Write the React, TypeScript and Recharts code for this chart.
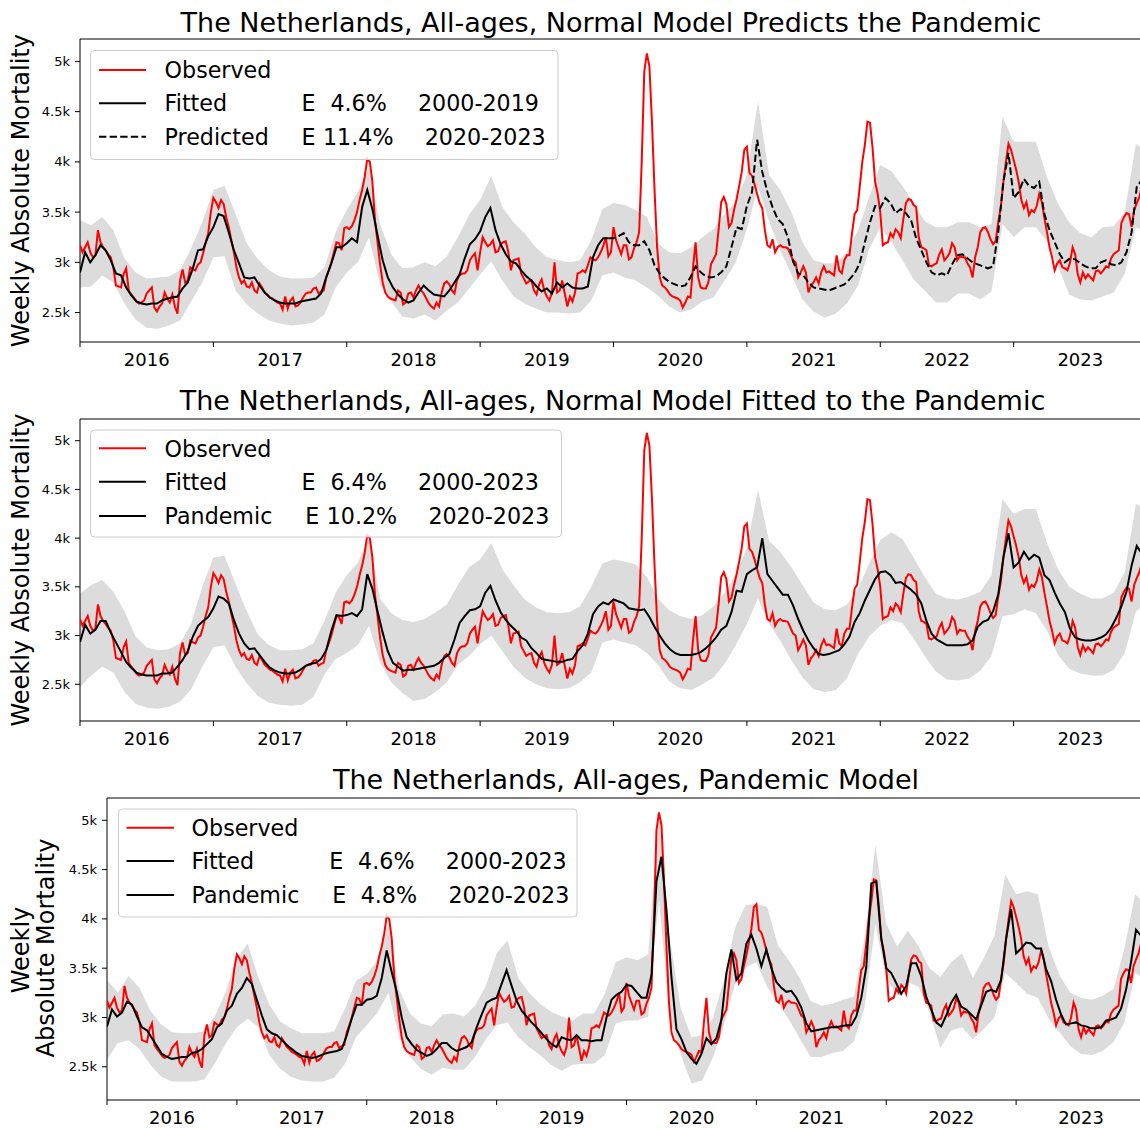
import React from 'react';
import { ComposedChart, Area, Line, XAxis, YAxis, ReferenceLine } from 'recharts';

const FONT = '"DejaVu Sans", sans-serif';
const START_YEAR = 2016;
const END_YEAR = 2024;

const YEAR_LABELS = ['2016', '2017', '2018', '2019', '2020', '2021', '2022', '2023'];
const Y_TICKS = [2500, 3000, 3500, 4000, 4500, 5000];
const Y_TICK_LABELS = ['2.5k', '3k', '3.5k', '4k', '4.5k', '5k'];

// weekly deaths, one line per year starting with the first week of 2016
const observed = [
  3170, 3100, 3150, 3200, 3100, 3050, 3070, 3320, 3200, 3150, 3120, 3080, 3050, 2950, 2770, 2760, 2750, 2880, 2940, 2720, 2680, 2650, 2610, 2590, 2600, 2620,
  2690, 2720, 2750, 2550, 2510, 2560, 2590, 2700, 2640, 2600, 2680, 2560, 2490, 2820, 2930, 2800, 2820, 2950, 2930, 2920, 2980, 3000, 3090, 3200, 3290, 3500,
  3640, 3600, 3540, 3620, 3580, 3450, 3350, 3220, 3100, 2950, 2850, 2790, 2820, 2760, 2750, 2800, 2720, 2700, 2790, 2750, 2700, 2680, 2650, 2640, 2620, 2600,
  2590, 2530, 2660, 2540, 2620, 2650, 2560, 2570, 2600, 2650, 2690, 2700, 2700, 2740, 2750, 2690, 2710, 2720, 2850, 2920, 3000, 3100, 3200, 3190, 3120, 3340,
  3350, 3330, 3360, 3420, 3500, 3620, 3720, 3850, 4030, 4000, 3800, 3420, 3200, 2980, 2800, 2700, 2660, 2640, 2630, 2620, 2720, 2700, 2580, 2600, 2690, 2700,
  2650, 2720, 2770, 2720, 2690, 2640, 2590, 2560, 2540, 2600, 2560, 2700, 2790, 2810, 2780, 2720, 2690, 2820, 2870, 2890, 2890, 2920, 3020, 3060, 3090, 2920,
  3100, 3250, 3200, 3160, 3180, 3220, 3100, 3110, 3180, 3200, 3210, 3100, 2920, 3020, 3030, 3040, 2890, 2840, 2790, 2810, 2820, 2720, 2680, 2780, 2830, 2720,
  2660, 2620, 2700, 3000, 2700, 2720, 2820, 2690, 2560, 2660, 2610, 2700, 2890, 2900, 2920, 2900, 2970, 3050, 3030, 3020, 3050, 3100, 3160, 3250, 3060, 3100,
  3350, 3220, 3150, 3080, 3170, 3170, 3030, 3050, 3140, 3200, 3300, 4000, 4900, 5080, 4950, 4400, 3720, 3150, 2850, 2770, 2750, 2720, 2680, 2660, 2650, 2640,
  2620, 2550, 2600, 2660, 2650, 2950, 3200, 2850, 2750, 2740, 2740, 2800, 2980, 3030, 3080, 3330, 3600, 3650, 3580, 3350, 3390, 3520, 3630, 3760, 3900, 4120,
  4150, 3890, 3860, 3780, 3680, 3590, 3540, 3320, 3170, 3150, 3230, 3100, 3150, 3170, 3150, 3150, 3140, 3080, 3020, 3000, 2850, 2900, 2960, 2900, 2700, 2770,
  2800, 2850, 2790, 2900, 2960, 2900, 2910, 2890, 2870, 3070, 2920, 2890, 3020, 3070, 3070, 3290, 3480, 3520, 3750, 4000, 4170, 4400, 4390, 4140, 3800, 3680,
  3500, 3170, 3190, 3200, 3290, 3250, 3330, 3300, 3240, 3430, 3590, 3630, 3620, 3570, 3550, 3250, 3150, 3140, 3120, 2970, 2960, 2980, 2990, 3080, 3130, 3020,
  3050, 3090, 3190, 3150, 3020, 3060, 3050, 3050, 2990, 2950, 2850, 3050, 3150, 3300, 3340, 3350, 3300, 3230, 3180, 3210, 3400, 3550, 3800, 4000, 4180, 4120,
  4020, 3920, 3800, 3620, 3540, 3600, 3470, 3520, 3500, 3560, 3680, 3600, 3440, 3300, 3150, 3050, 2920, 2990, 3020, 2950, 2940, 2920, 3000, 3150, 3080, 2880,
  2800, 2900, 2840, 2880, 2850, 2820, 2910, 2920, 2890, 2920, 2960, 2950, 3040, 3080, 3100, 3120, 3390, 3450, 3490, 3480, 3350, 3520, 3590, 3650, 3750, 3700,
];

// model curves, every second week from the first week of 2016

// normal model fitted on 2000-2019
const normalFitted = [
  2900, 3100, 3000, 3070, 3170, 3120, 3020, 2890, 2870, 2750, 2670, 2610, 2590, 2580, 2590, 2590, 2620, 2640, 2650, 2660, 2740, 2800, 2940, 3120, 3130, 3260,
  3350, 3480, 3460, 3300, 3120, 2990, 2850, 2840, 2850, 2770, 2700, 2650, 2620, 2600, 2590, 2590, 2590, 2610, 2620, 2630, 2640, 2690, 2850, 2990, 3150, 3150,
  3190, 3240, 3200, 3550, 3720, 3530, 3270, 3020, 2850, 2750, 2680, 2630, 2600, 2620, 2700, 2770, 2720, 2680, 2670, 2660, 2720, 2800, 2880, 3040, 3180, 3230,
  3310, 3450, 3540, 3320, 3180, 3080, 3010, 2990, 2920, 2860, 2820, 2760, 2710, 2740, 2690, 2800, 2750, 2790, 2750, 2740, 2740, 2760, 3050, 3170, 3240, 3240,
];

// same model carried forward over 2020-2023
const normalPredicted = [
  3240, 3260, 3290, 3200, 3170, 3170, 3210, 3120, 2970, 2890, 2840, 2800, 2780, 2760, 2770, 2850, 2960, 2900, 2860, 2850, 2860, 2900, 2960, 3150, 3350, 3330,
  3560, 3700, 4220, 3900, 3700, 3550, 3430, 3380, 3250, 3010, 2890, 2870, 2800, 2750, 2740, 2730, 2720, 2740, 2760, 2780, 2830, 2890, 2990, 3200, 3400, 3560,
  3540, 3640, 3590, 3490, 3530, 3490, 3420, 3240, 3120, 3000, 2900, 2870, 2890, 2870, 2980, 3070, 3080, 3040, 3000, 2980, 2960, 2940, 2960, 3300, 3800, 4090,
  3640, 3700, 3830, 3760, 3740, 3800, 3480, 3320, 3200, 3080, 3000, 3040, 3030, 2990, 2960, 2940, 2940, 3000, 3020, 2980, 2970, 3000, 3100, 3300, 3750, 3820,
];

// normal model refitted on 2000-2023
const refitModel = [
  2935, 3110, 3020, 3060, 3150, 3150, 3030, 2930, 2830, 2730, 2670, 2620, 2600, 2590, 2590, 2590, 2610, 2610, 2620, 2680, 2750, 2840, 2990, 3100, 3150, 3190,
  3280, 3400, 3380, 3330, 3160, 3020, 2920, 2860, 2870, 2800, 2730, 2670, 2640, 2620, 2610, 2610, 2620, 2650, 2690, 2710, 2720, 2760, 2850, 3050, 3210, 3200,
  3210, 3230, 3200, 3270, 3630, 3480, 3250, 3030, 2840, 2720, 2680, 2640, 2650, 2650, 2660, 2670, 2680, 2690, 2720, 2770, 2810, 2960, 3130, 3200, 3260, 3270,
  3300, 3440, 3510, 3360, 3240, 3160, 3100, 3050, 2980, 2950, 2870, 2820, 2760, 2750, 2740, 2730, 2730, 2750, 2760, 2840, 2900, 3020, 3220, 3300, 3340, 3320,
  3370, 3350, 3330, 3280, 3270, 3260, 3270, 3190, 3090, 3000, 2920, 2860, 2820, 2800, 2800, 2800, 2810, 2830, 2870, 2920, 2980, 3060, 3100, 3240, 3460, 3450,
  3630, 3670, 3700, 4000, 3630, 3560, 3490, 3420, 3420, 3310, 3170, 3050, 2950, 2870, 2810, 2800, 2810, 2830, 2850, 2910, 2990, 3140, 3230, 3360, 3470, 3580,
  3650, 3660, 3620, 3540, 3550, 3510, 3470, 3420, 3330, 3150, 3020, 2960, 2930, 2900, 2900, 2900, 2900, 2910, 2950, 3090, 3140, 3160, 3250, 3420, 3800, 4050,
  3700, 3750, 3860, 3780, 3830, 3800, 3620, 3570, 3440, 3330, 3240, 3070, 2980, 2960, 2950, 2950, 2960, 2980, 3010, 3080, 3180, 3300, 3450, 3720, 3920, 3840,
];

// pandemic model fitted on 2000-2023
const pandemicModel = [
  2910, 3080, 3010, 3050, 3160, 3130, 3010, 2900, 2870, 2790, 2710, 2630, 2600, 2580, 2590, 2600, 2600, 2640, 2650, 2680, 2730, 2780, 2900, 2940, 3070, 3120,
  3240, 3300, 3400, 3340, 3180, 3020, 2880, 2840, 2820, 2770, 2720, 2680, 2640, 2610, 2600, 2590, 2600, 2620, 2640, 2650, 2660, 2680, 2820, 2990, 3130, 3130,
  3180, 3190, 3220, 3400, 3680, 3460, 3260, 3000, 2800, 2730, 2670, 2640, 2610, 2630, 2680, 2740, 2740, 2690, 2660, 2680, 2700, 2750, 2900, 3030, 3150, 3180,
  3200, 3340, 3480, 3320, 3170, 3070, 3010, 2950, 2900, 2840, 2780, 2730, 2700, 2800, 2780, 2770, 2820, 2770, 2770, 2760, 2770, 2770, 3000, 3180, 3230, 3260,
  3330, 3320, 3260, 3200, 3200, 3430, 4380, 4630, 4090, 3410, 2880, 2780, 2650, 2580, 2530, 2630, 2790, 2730, 2790, 2980, 3450, 3690, 3380, 3450, 3750, 3840,
  3700, 3520, 3690, 3500, 3360, 3300, 3260, 3270, 3200, 3100, 2940, 2860, 2870, 2880, 2890, 2900, 2900, 2910, 2920, 2920, 3010, 3200, 3510, 4360, 4380, 3800,
  3500, 3450, 3350, 3240, 3320, 3550, 3550, 3420, 3210, 3080, 2950, 2910, 3020, 3150, 3230, 3110, 3080, 3030, 2980, 3120, 3260, 3280, 3260, 3380, 3800, 4100,
  3650, 3700, 3760, 3750, 3700, 3700, 3490, 3370, 3180, 3030, 2930, 2940, 2950, 2920, 2910, 2890, 2890, 2900, 2970, 2980, 3000, 3090, 3280, 3560, 3890, 3830,
];

// prediction intervals, one value per month (Jan 2016 .. Jan 2024)
const normalLow = [
  2750, 2760, 2870, 2800, 2590, 2430, 2350, 2340, 2370, 2420, 2610, 2800,
  3050, 3060, 2720, 2580, 2490, 2420, 2390, 2370, 2380, 2400, 2480, 2750,
  2900, 3000, 3250, 2780, 2610, 2460, 2440, 2480, 2420, 2520, 2600, 2740,
  2880, 3010, 2820, 2660, 2590, 2540, 2500, 2500, 2490, 2500, 2620, 2870,
  2900, 2850, 2820, 2750, 2670, 2560, 2500, 2530, 2610, 2650, 2820, 3000,
  3330, 3750, 3410, 3120, 2880, 2630, 2510, 2450, 2490, 2590, 2770, 3130,
  3350, 3200, 3020, 2830, 2720, 2600, 2600, 2690, 2690, 2630, 2710, 3380,
  3250, 3350, 3350, 3210, 2960, 2680, 2630, 2620, 2660, 2700, 2890, 3350,
  3300,
];
const normalHigh = [
  3420, 3370, 3450, 3320, 3040, 2900, 2840, 2850, 2860, 2920, 3140, 3400,
  3720, 3760, 3480, 3190, 3030, 2920, 2860, 2840, 2840, 2850, 2950, 3300,
  3520, 3700, 3950, 3380, 3080, 2940, 2950, 3000, 2960, 3060, 3250, 3470,
  3620, 3860, 3550, 3400, 3290, 3150, 3050, 3020, 3000, 3020, 3220, 3530,
  3590, 3570, 3520, 3450, 3190, 3100, 3090, 3150, 3250, 3330, 3480, 3600,
  3870, 4600, 3870, 3720, 3500, 3200, 3020, 2990, 2990, 3100, 3320, 3650,
  3970, 3910, 3760, 3590, 3410, 3350, 3350, 3400, 3400, 3350, 3380, 4450,
  4200, 4200, 4200, 3850, 3580, 3400, 3290, 3250, 3350, 3360, 3500, 4180,
  4100,
];
const refitLow = [
  2470, 2590, 2680, 2620, 2420, 2300, 2260, 2250, 2270, 2320, 2450, 2680,
  2880, 2900, 2680, 2510, 2380, 2310, 2290, 2280, 2290, 2370, 2600, 2760,
  2820, 2900, 3100, 2720, 2520, 2410, 2330, 2350, 2420, 2520, 2700, 2790,
  2910, 3000, 2840, 2680, 2570, 2500, 2460, 2450, 2460, 2520, 2620, 2930,
  2960, 2930, 2900, 2820, 2700, 2530, 2460, 2440, 2500, 2570, 2710, 2900,
  3120, 3380, 3120, 2950, 2750, 2570, 2450, 2420, 2440, 2560, 2810, 2990,
  3100, 3160, 3130, 2970, 2790, 2630, 2550, 2540, 2560, 2640, 2790, 3200,
  3220, 3270, 3230, 3050, 2800, 2660, 2610, 2590, 2590, 2650, 2820, 3250,
  3330,
];
const refitHigh = [
  3430, 3520, 3570, 3450, 3250, 2990, 2880, 2850, 2860, 2920, 3120, 3500,
  3800, 3820, 3530, 3250, 3010, 2900, 2850, 2850, 2860, 2920, 3150, 3440,
  3620, 3750, 4000, 3380, 3230, 3160, 3140, 3170, 3240, 3320, 3520, 3700,
  3780, 3950, 3680, 3520, 3370, 3290, 3240, 3230, 3240, 3300, 3500, 3740,
  3780, 3760, 3730, 3600, 3380, 3260, 3200, 3170, 3210, 3300, 3440, 3630,
  3900, 4500, 3970, 3860, 3700, 3520, 3340, 3270, 3260, 3320, 3480, 3740,
  3980, 4060, 3990, 3800, 3600, 3430, 3380, 3370, 3400, 3450, 3620, 4400,
  4250, 4300, 4300, 3950, 3680, 3500, 3430, 3380, 3380, 3440, 3650, 4350,
  4300,
];
const pandemicLow = [
  2570, 2740, 2770, 2680, 2520, 2400, 2350, 2350, 2350, 2370, 2540, 2740,
  2900, 2990, 2900, 2620, 2480, 2400, 2360, 2350, 2350, 2390, 2530, 2800,
  2920, 3050, 3250, 2800, 2600, 2480, 2420, 2490, 2470, 2470, 2600, 2780,
  2920, 2950, 2800, 2700, 2620, 2520, 2460, 2520, 2530, 2530, 2620, 2940,
  2970, 2970, 3010, 4200, 2980, 2630, 2330, 2360, 2600, 2920, 3330, 3510,
  3560, 3310, 3150, 2980, 2790, 2600, 2600, 2640, 2660, 2760, 3100, 3950,
  3380, 3240, 3360, 3310, 3050, 2690, 2870, 2900, 2780, 2880, 3000, 3450,
  3350, 3240, 3200, 2990, 2850, 2710, 2630, 2620, 2660, 2750, 2950, 3450,
  3380,
];
const pandemicHigh = [
  3380, 3250, 3420, 3300, 3070, 2930, 2850, 2840, 2840, 2860, 3020, 3270,
  3600, 3750, 3400, 3130, 2960, 2890, 2840, 2840, 2840, 2860, 3090, 3370,
  3440, 3580, 3950, 3280, 3040, 2940, 2910, 3030, 3040, 3010, 3120, 3320,
  3650, 3780, 3400, 3250, 3140, 3060, 3010, 2970, 3040, 3040, 3240, 3560,
  3610, 3580, 3640, 5050, 3800, 3100, 2800, 2820, 3000, 3380, 3900, 4140,
  4150, 4120, 3730, 3580, 3400, 3170, 3120, 3140, 3180, 3210, 3800, 4750,
  3950, 3720, 3880, 3720, 3500, 3410, 3560, 3650, 3400, 3600, 3830, 4450,
  4250, 4280, 4250, 3720, 3430, 3250, 3200, 3180, 3220, 3290, 3700, 4250,
  4150,
];

const X_TICKS: number[] = [];
YEAR_LABELS.forEach((_, i) => {
  X_TICKS.push(START_YEAR + i, START_YEAR + i + 0.5);
});

const monthTime = (i: number) => START_YEAR + i / 12;

function bandRows(low: number[], high: number[]) {
  return low.map((lo, i) => ({ t: monthTime(i), range: [lo, high[i]] }));
}

// one row per week; the model curves only exist on every second week
function lineRows(models: Record<string, (number | null)[]>) {
  return observed.map((v, i) => {
    const row: Record<string, number | null> = { t: START_YEAR + i / 52, obs: v };
    Object.keys(models).forEach((key) => {
      const m = i % 2 === 0 ? models[key][i / 2] : undefined;
      row[key] = m === undefined ? null : m;
    });
    return row;
  });
}

const lastFit = normalFitted.length - 1;
const predictedSeries = normalFitted
  .map((v, i) => (i === lastFit ? v : null))
  .concat(normalPredicted);

type LineSpec = { key: string; color: string; dash?: string; gaps?: boolean };

type PanelSpec = {
  top: number;
  plotLeft: number;
  width: number;
  plotTop: number;
  plotHeight: number;
  yDomain: [number, number];
  band: { t: number; range: number[] }[];
  rows: Record<string, number | null>[];
  lines: LineSpec[];
};

const AXIS_H = 30;

const panels: PanelSpec[] = [
  {
    top: 0,
    plotLeft: 80,
    width: 1147,
    plotTop: 39,
    plotHeight: 303,
    yDomain: [2207, 5223],
    band: bandRows(normalLow, normalHigh),
    rows: lineRows({ fit: normalFitted, pred: predictedSeries }),
    lines: [
      { key: 'obs', color: '#ff0000' },
      { key: 'fit', color: '#000000', gaps: true },
      { key: 'pred', color: '#000000', dash: '7.4 3.2', gaps: true },
    ],
  },
  {
    top: 379,
    plotLeft: 80,
    width: 1147,
    plotTop: 40,
    plotHeight: 302,
    yDomain: [2123, 5223],
    band: bandRows(refitLow, refitHigh),
    rows: lineRows({ fit: refitModel }),
    lines: [
      { key: 'obs', color: '#ff0000' },
      { key: 'fit', color: '#000000', gaps: true },
    ],
  },
  {
    top: 758,
    plotLeft: 107,
    width: 1146,
    plotTop: 40,
    plotHeight: 302,
    yDomain: [2163, 5226],
    band: bandRows(pandemicLow, pandemicHigh),
    rows: lineRows({ fit: pandemicModel }),
    lines: [
      { key: 'obs', color: '#ff0000' },
      { key: 'fit', color: '#000000', gaps: true },
    ],
  },
];

function YearTick(props: any) {
  const { x, y, payload } = props;
  const v = payload.value as number;
  if (Number.isInteger(v)) {
    return <line x1={x} x2={x} y1={y} y2={y + 5} stroke="#000" strokeWidth={1} />;
  }
  return (
    <text x={x} y={y + 24} textAnchor="middle" fontSize={18} fontFamily={FONT} fill="#000">
      {YEAR_LABELS[Math.floor(v) - START_YEAR]}
    </text>
  );
}

function Panel({ spec }: { spec: PanelSpec }) {
  const height = spec.plotTop + spec.plotHeight + AXIS_H;
  const pos: React.CSSProperties = { position: 'absolute', left: 0, top: spec.top };
  return (
    <>
      <div style={pos}>
        <ComposedChart
          width={spec.width}
          height={height}
          data={spec.band}
          margin={{ top: spec.plotTop, right: 0, bottom: 0, left: 1 }}
        >
          <XAxis
            type="number"
            dataKey="t"
            domain={[START_YEAR, END_YEAR]}
            ticks={X_TICKS}
            interval={0}
            tickLine={false}
            tickSize={0}
            tickMargin={0}
            height={AXIS_H}
            axisLine={{ stroke: '#000', strokeWidth: 1 }}
            tick={(p: any) => <YearTick {...p} />}
            allowDataOverflow
          />
          <YAxis
            type="number"
            domain={spec.yDomain}
            ticks={Y_TICKS}
            interval={0}
            width={spec.plotLeft - 1}
            tickSize={5}
            tickMargin={5}
            tickFormatter={(_v: number, i: number) => Y_TICK_LABELS[i]}
            tick={{ fill: '#000', fontSize: 13, fontFamily: FONT }}
            tickLine={{ stroke: '#000' }}
            axisLine={{ stroke: '#000', strokeWidth: 1 }}
            allowDataOverflow
          />
          <Area
            dataKey="range"
            type="linear"
            stroke="none"
            fill="#dcdcdc"
            fillOpacity={1}
            dot={false}
            activeDot={false}
            isAnimationActive={false}
          />
          <ReferenceLine y={spec.yDomain[1]} stroke="#000" strokeWidth={1} />
        </ComposedChart>
      </div>
      <div style={pos}>
        <ComposedChart
          width={spec.width}
          height={height}
          data={spec.rows}
          margin={{ top: spec.plotTop, right: 0, bottom: AXIS_H, left: spec.plotLeft }}
        >
          <XAxis hide type="number" dataKey="t" domain={[START_YEAR, END_YEAR]} allowDataOverflow />
          <YAxis hide type="number" domain={spec.yDomain} allowDataOverflow />
          {spec.lines.map((l) => (
            <Line
              key={l.key}
              dataKey={l.key}
              type="linear"
              stroke={l.color}
              strokeWidth={2}
              strokeDasharray={l.dash}
              connectNulls={!!l.gaps}
              dot={false}
              activeDot={false}
              isAnimationActive={false}
            />
          ))}
        </ComposedChart>
      </div>
    </>
  );
}

type LegendRow = { color: string; dash?: string; parts: { text: string; x: number }[] };
type LegendSpec = {
  box: [number, number, number, number];
  lineX: [number, number];
  lineY: number[];
  baseY: number[];
  rows: LegendRow[];
};

const legends: LegendSpec[] = [
  {
    box: [90.5, 50.5, 467.5, 109],
    lineX: [99, 146],
    lineY: [70, 103.3, 136.7],
    baseY: [77.5, 111, 145],
    rows: [
      { color: '#ff0000', parts: [{ text: 'Observed', x: 164.6 }] },
      { color: '#000000', parts: [{ text: 'Fitted', x: 164.6 }, { text: 'E', x: 301.5 }, { text: '4.6%', x: 330.4 }, { text: '2000-2019', x: 418 }] },
      { color: '#000000', dash: '7.4 3.2', parts: [{ text: 'Predicted', x: 164.6 }, { text: 'E', x: 301.5 }, { text: '11.4%', x: 323 }, { text: '2020-2023', x: 424.7 }] },
    ],
  },
  {
    box: [90.5, 430, 471, 107],
    lineX: [99, 146],
    lineY: [448.3, 481.7, 516],
    baseY: [456.7, 490, 524],
    rows: [
      { color: '#ff0000', parts: [{ text: 'Observed', x: 164.6 }] },
      { color: '#000000', parts: [{ text: 'Fitted', x: 164.6 }, { text: 'E', x: 301.5 }, { text: '6.4%', x: 330.4 }, { text: '2000-2023', x: 418 }] },
      { color: '#000000', parts: [{ text: 'Pandemic', x: 164.6 }, { text: 'E', x: 305.2 }, { text: '10.2%', x: 326.7 }, { text: '2020-2023', x: 428.4 }] },
    ],
  },
  {
    box: [118.4, 809, 458.6, 108],
    lineX: [126.5, 174],
    lineY: [827.7, 861, 895],
    baseY: [836, 869.3, 903.3],
    rows: [
      { color: '#ff0000', parts: [{ text: 'Observed', x: 191.6 }] },
      { color: '#000000', parts: [{ text: 'Fitted', x: 191.6 }, { text: 'E', x: 329.3 }, { text: '4.6%', x: 358.1 }, { text: '2000-2023', x: 445.8 }] },
      { color: '#000000', parts: [{ text: 'Pandemic', x: 191.6 }, { text: 'E', x: 332.2 }, { text: '4.8%', x: 360.7 }, { text: '2020-2023', x: 448.4 }] },
    ],
  },
];

const titles = [
  { text: 'The Netherlands, All-ages, Normal Model Predicts the Pandemic', x: 611, y: 31.7 },
  { text: 'The Netherlands, All-ages, Normal Model Fitted to the Pandemic', x: 612.5, y: 410 },
  { text: 'The Netherlands, All-ages, Pandemic Model', x: 626, y: 789 },
];

function Annotations() {
  return (
    <svg width={1140} height={1128} style={{ position: 'absolute', left: 0, top: 0 }} fontFamily={FONT}>
      {titles.map((t) => (
        <text key={t.text} x={t.x} y={t.y} textAnchor="middle" fontSize={27} fill="#000">
          {t.text}
        </text>
      ))}
      <text transform="translate(29.4,190.6) rotate(-90)" textAnchor="middle" fontSize={24} fill="#000">
        Weekly Absolute Mortality
      </text>
      <text transform="translate(29.4,570) rotate(-90)" textAnchor="middle" fontSize={24} fill="#000">
        Weekly Absolute Mortality
      </text>
      <text transform="translate(29.3,950) rotate(-90)" textAnchor="middle" fontSize={24} fill="#000">
        Weekly
      </text>
      <text transform="translate(53.5,948) rotate(-90)" textAnchor="middle" fontSize={24} fill="#000">
        Absolute Mortality
      </text>
      {legends.map((lg, li) => (
        <g key={li}>
          <rect
            x={lg.box[0]}
            y={lg.box[1]}
            width={lg.box[2]}
            height={lg.box[3]}
            rx={4}
            fill="rgba(255,255,255,0.8)"
            stroke="#cccccc"
            strokeWidth={1}
          />
          {lg.rows.map((row, ri) => (
            <g key={ri}>
              <line
                x1={lg.lineX[0]}
                x2={lg.lineX[1]}
                y1={lg.lineY[ri]}
                y2={lg.lineY[ri]}
                stroke={row.color}
                strokeWidth={2}
                strokeDasharray={row.dash}
              />
              {row.parts.map((p) => (
                <text key={p.text + p.x} x={p.x} y={lg.baseY[ri]} fontSize={22.2} fill="#000">
                  {p.text}
                </text>
              ))}
            </g>
          ))}
        </g>
      ))}
    </svg>
  );
}

export default function App() {
  return (
    <div
      style={{
        position: 'absolute',
        left: 0,
        top: 0,
        width: 1140,
        height: 1128,
        overflow: 'hidden',
        background: '#fff',
      }}
    >
      {panels.map((p, i) => (
        <Panel key={i} spec={p} />
      ))}
      <Annotations />
    </div>
  );
}
